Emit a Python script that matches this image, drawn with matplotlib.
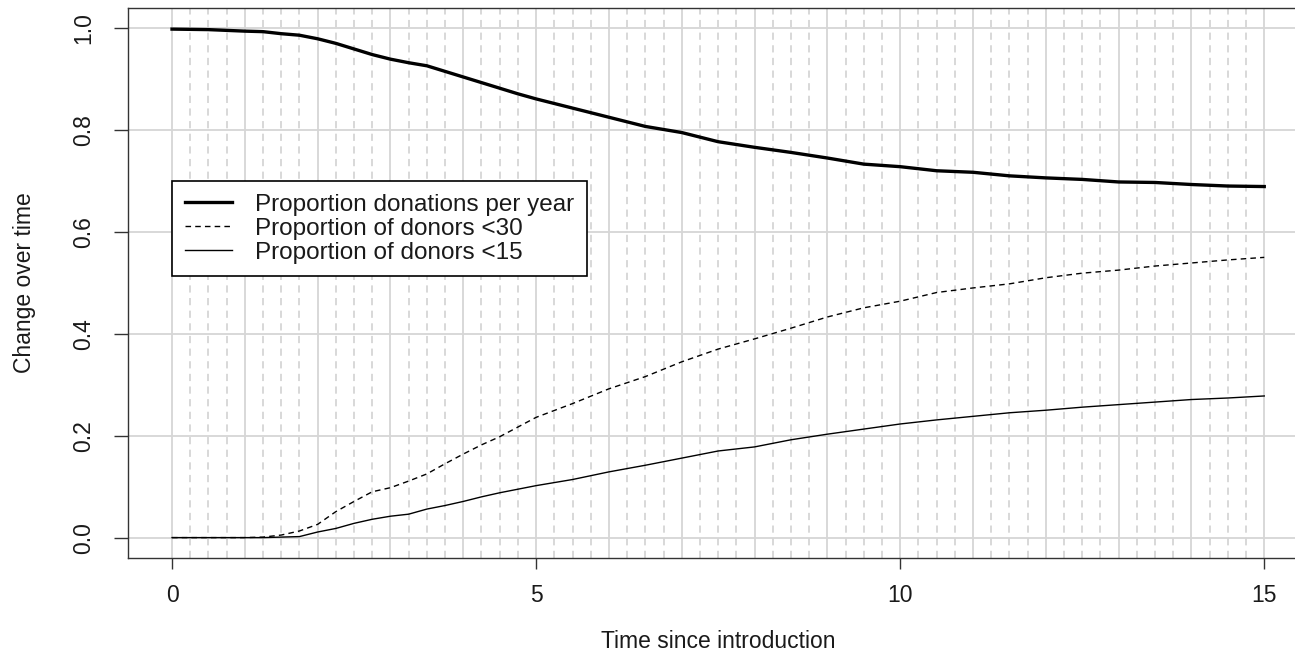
import numpy as np
import matplotlib
matplotlib.use("Agg")
import matplotlib.pyplot as plt

plt.rcParams['font.family'] = ['Liberation Sans', 'DejaVu Sans']

GRID_COLOR = "#d6d6d6"
TEXT_COLOR = "#1a1a1a"
FS = 16.5

# time since introduction (years)
years = [0, 0.5, 1, 1.25, 1.5, 1.75, 2, 2.25, 2.5, 2.75, 3, 3.25, 3.5, 3.75,
         4, 4.25, 4.5, 4.75, 5, 5.5, 6, 6.5, 7, 7.5, 8, 8.5, 9, 9.5, 10,
         10.5, 11, 11.5, 12, 12.5, 13, 13.5, 14, 14.5, 15]

donations_per_year = [0.998, 0.997, 0.994, 0.993, 0.989, 0.986, 0.979, 0.970,
                      0.959, 0.948, 0.939, 0.932, 0.926, 0.915, 0.904, 0.893,
                      0.882, 0.871, 0.861, 0.843, 0.825, 0.807, 0.795, 0.777,
                      0.766, 0.756, 0.745, 0.733, 0.728, 0.720, 0.717, 0.710,
                      0.706, 0.703, 0.698, 0.697, 0.693, 0.690, 0.689]

donors_lt30 = [0.0, 0.0, 0.0, 0.001, 0.005, 0.013, 0.026, 0.051, 0.071, 0.090,
               0.098, 0.111, 0.125, 0.145, 0.164, 0.182, 0.198, 0.217, 0.236,
               0.263, 0.292, 0.316, 0.345, 0.370, 0.390, 0.411, 0.433, 0.451,
               0.464, 0.481, 0.490, 0.498, 0.510, 0.519, 0.525, 0.533, 0.539,
               0.545, 0.550]

donors_lt15 = [0.0, 0.0, 0.0, 0.0, 0.001, 0.002, 0.011, 0.018, 0.028, 0.036,
               0.042, 0.046, 0.056, 0.063, 0.071, 0.080, 0.088, 0.095, 0.102,
               0.114, 0.129, 0.142, 0.156, 0.170, 0.178, 0.192, 0.203, 0.213,
               0.223, 0.231, 0.238, 0.245, 0.250, 0.256, 0.261, 0.266, 0.271,
               0.274, 0.278]

labels = ["Proportion donations per year",
          "Proportion of donors <30",
          "Proportion of donors <15"]

fig = plt.figure(figsize=(12.95, 6.53), dpi=100)
ax = fig.add_axes([0.0991, 0.1455, 0.9109, 0.8427])

ax.set_xlim(-0.6, 15.6)
ax.set_ylim(-0.04, 1.04)

# background grid: yearly solid, quarterly dashed, horizontal every 0.2
for q in np.arange(0, 15.01, 0.25):
    if q == int(q):
        ax.axvline(q, color=GRID_COLOR, lw=1.3, zorder=0)
    else:
        ax.axvline(q, color=GRID_COLOR, lw=1.3, ls=(0, (4, 3)), zorder=0)
for h in np.arange(0, 1.01, 0.2):
    ax.axhline(h, color=GRID_COLOR, lw=1.3, zorder=0)

ax.plot(years, donations_per_year, color="black", lw=2.4, label=labels[0])
ax.plot(years, donors_lt30, color="black", lw=1.0, ls=(0, (4, 3)), label=labels[1])
ax.plot(years, donors_lt15, color="black", lw=1.0, label=labels[2])

ax.set_xticks([0, 5, 10, 15])
ax.set_yticks([0.0, 0.2, 0.4, 0.6, 0.8, 1.0])
ax.set_yticklabels(["0.0", "0.2", "0.4", "0.6", "0.8", "1.0"],
                   rotation=90, va="center")
ax.tick_params(axis="x", length=8, width=1, pad=10.5, labelsize=FS,
               colors="#333333", labelcolor=TEXT_COLOR)
ax.tick_params(axis="y", length=10, width=1, pad=14, labelsize=FS,
               colors="#333333", labelcolor=TEXT_COLOR)

for side in ax.spines:
    ax.spines[side].set_color("#333333")
    ax.spines[side].set_linewidth(1.0)

ax.set_xlabel("Time since introduction", fontsize=FS, color=TEXT_COLOR, labelpad=16.5)
ax.set_ylabel("Change over time", fontsize=FS, color=TEXT_COLOR, labelpad=26)

leg = ax.legend(loc="upper left", bbox_to_anchor=(0, 0.7),
                bbox_transform=ax.transData, fontsize=17.5, frameon=True,
                fancybox=False, framealpha=1, edgecolor="black",
                handlelength=1.95, handletextpad=0.95, borderpad=0.52,
                labelspacing=0.08, borderaxespad=0)
leg.get_frame().set_linewidth(1.2)
for t in leg.get_texts():
    t.set_color(TEXT_COLOR)

fig.savefig("out.png", dpi=100)
